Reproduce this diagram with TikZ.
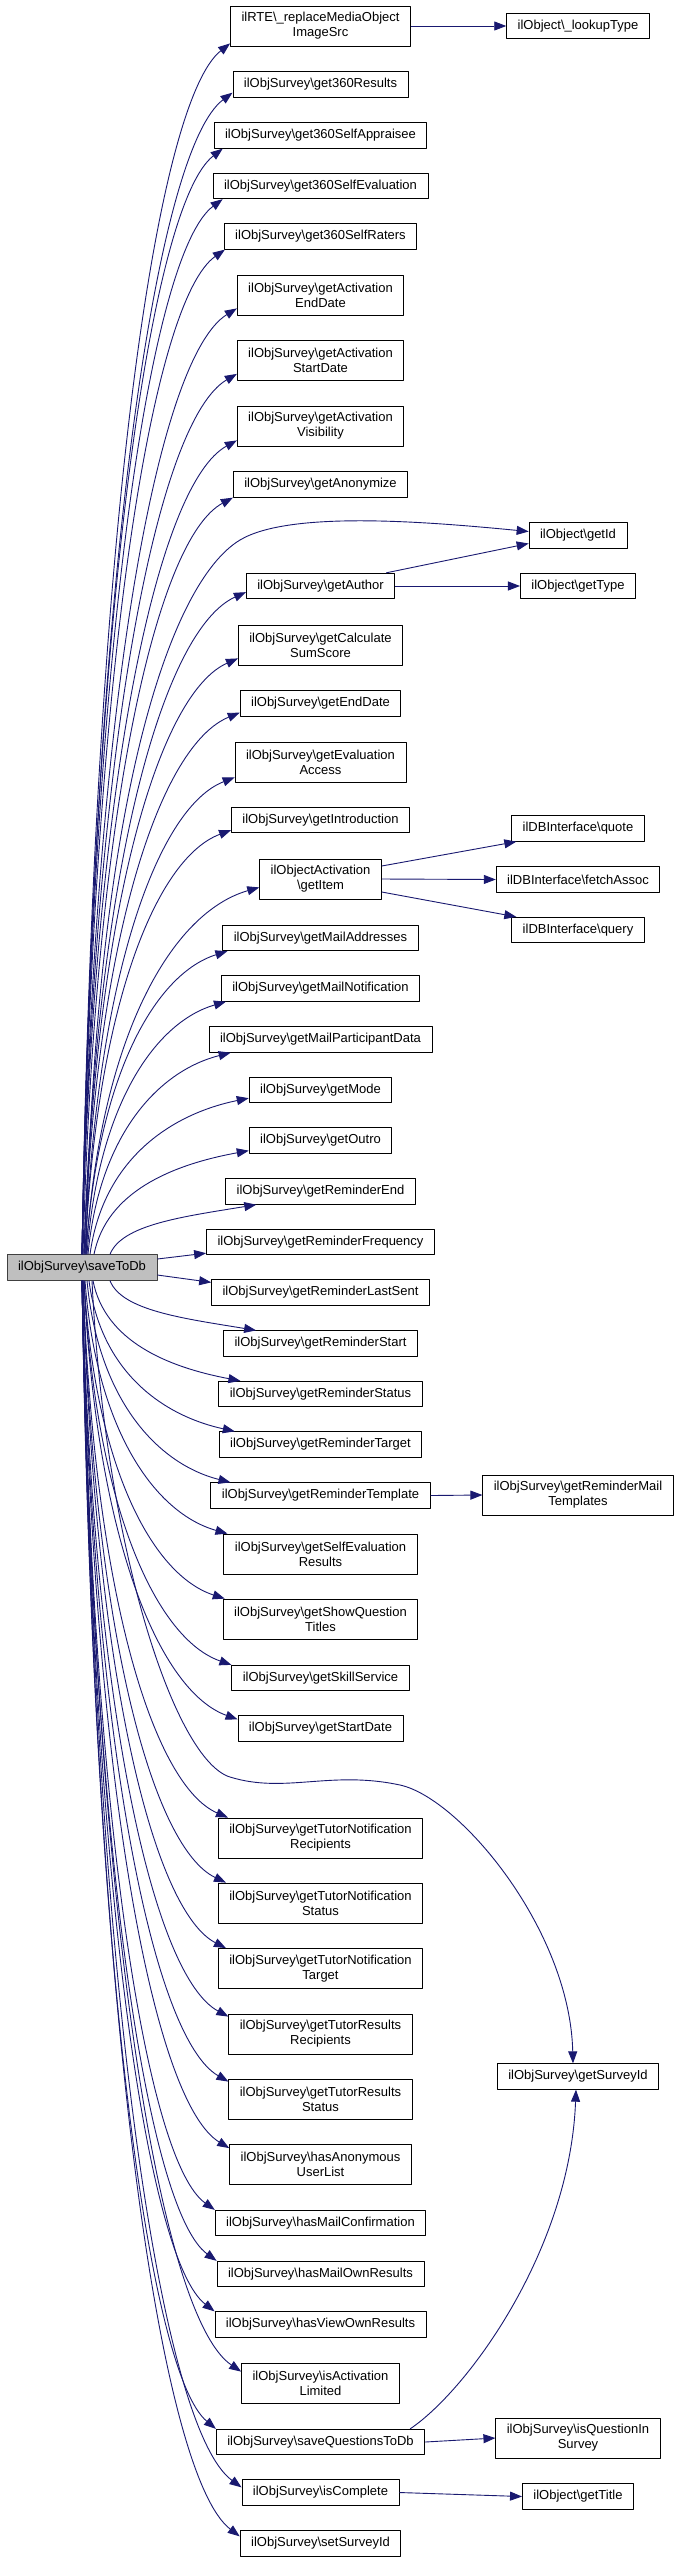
\documentclass[tikz,border=0pt]{standalone}
\usepackage{fontspec}
\setmainfont{Liberation Sans}
\usetikzlibrary{arrows.meta,calc}
\definecolor{navy}{HTML}{191970}
\newcommand{\bsl}{\textbackslash}
\begin{document}
\begin{tikzpicture}[x=1pt, y=-1pt, font=\fontsize{13}{15}\selectfont, line join=round, >={Triangle[length=12pt,width=9pt]},
	box/.style={draw, line width=0.8pt, fill=white, inner xsep=11pt, inner ysep=3pt, minimum height=25.5pt},
	two/.style={box, align=center, minimum height=40pt},
	edge/.style={->, navy, line width=0.9pt}]
	\useasboundingbox (0,0) rectangle (679,2562);
	% caller
	\node[box, fill=black!25, draw=black!75] (sdb) at (82,1267.5) {ilObjSurvey\bsl saveToDb};
	% callees, middle column
	\node[two] (rte) at (320.5,26) {ilRTE\bsl\_replaceMediaObject\\ImageSrc};
	\node[two] (itm) at (320.5,879) {ilObjectActivation\\\bsl getItem};
	\foreach \t/\h/\txt in {r360/84.5/get360Results, app/135.5/get360SelfAppraisee, eva/186/get360SelfEvaluation,
		rat/236.5/get360SelfRaters, ano/484.5/getAnonymize, aut/586/getAuthor, edt/703.5/getEndDate,
		int/820/getIntroduction, mad/938/getMailAddresses, mno/988.5/getMailNotification,
		mpd/1039.5/getMailParticipantData, mod/1090/getMode, out/1140.5/getOutro, ren/1191.5/getReminderEnd,
		rfr/1242/getReminderFrequency, rls/1292.5/getReminderLastSent, rst/1343.5/getReminderStart,
		rss/1394/getReminderStatus, rta/1444.5/getReminderTarget, rtp/1495.5/getReminderTemplate,
		sks/1678/getSkillService, sda/1728.5/getStartDate, hmc/2223/hasMailConfirmation,
		hmo/2274/hasMailOwnResults, hvo/2324.5/hasViewOwnResults, sqd/2442/saveQuestionsToDb,
		icp/2492.5/isComplete, ssi/2543.5/setSurveyId}
	\node[box] (\t) at (320.5,\h) {ilObjSurvey\bsl\txt};
	\foreach \t/\h/\pa/\pb in {aed/295/getActivation/EndDate, asd/360.5/getActivation/StartDate,
		avi/426/getActivation/Visibility, css/645/getCalculate/SumScore, eac/762/getEvaluation/Access,
		ser/1554/getSelfEvaluation/Results, sqt/1619/getShowQuestion/Titles,
		tnr/1838/getTutorNotification/Recipients, tns/1903/getTutorNotification/Status,
		tnt/1968.5/getTutorNotification/Target, trr/2034/getTutorResults/Recipients,
		trs/2099/getTutorResults/Status, hau/2164.5/hasAnonymous/UserList, ial/2383/isActivation/Limited}
	\node[two] (\t) at (320.5,\h) {ilObjSurvey\bsl\pa\\\pb};
	% right column
	\node[box] (lkt) at (578,26) {ilObject\bsl\_lookupType};
	\node[box] (gid) at (578,535.5) {ilObject\bsl getId};
	\node[box] (gty) at (578,586) {ilObject\bsl getType};
	\node[box] (quo) at (578,828.5) {ilDBInterface\bsl quote};
	\node[box] (fas) at (578,879.5) {ilDBInterface\bsl fetchAssoc};
	\node[box] (qry) at (578,930) {ilDBInterface\bsl query};
	\node[two] (rmt) at (578,1495) {ilObjSurvey\bsl getReminderMail\\Templates};
	\node[box] (sid) at (578,2076.5) {ilObjSurvey\bsl getSurveyId};
	\node[two] (iqs) at (578,2438) {ilObjSurvey\bsl isQuestionIn\\Survey};
	\node[box] (tit) at (578,2496.5) {ilObject\bsl getTitle};
	% calls going up
	\foreach \t/\s/\e/\f in {rte/0/0/3, r360/0/0/5, app/0/9/0, eva/0/10/0, rat/0/1/0, aed/0/0/7, asd/0/0/7,
		avi/0/0/6, ano/1/0/0, aut/2/0/7, css/2/0/7, edt/2/0/4, eac/3/0/5, int/3/0/3, itm/4/0/12, mad/4/5/0,
		mno/5/5/0, mpd/6/22/0, mod/8/0/5, out/12/0/3, ren/28/31/0}
	\draw[edge] let \p1=([xshift=\s pt]sdb.north), \p2=([xshift=\e pt,yshift=\f pt]\t.south west),
		\n1={\y2-\y1}, \n2={\x2-\x1} in
		(\p1) .. controls ({\x1+0.08*\n2},{\y1+0.6*\n1}) and ({\x2-0.5*\n2},{\y2-0.04*\n1-10pt}) .. (\p2);
	% calls going down
	\foreach \t/\s/\e/\f in {rst/28/33/0, rss/11/22/0, rta/7/16/0, rtp/5/20/0, ser/3/4/0, sqt/2/2/0, sks/2/0/0,
		sda/2/0/4, tnr/1/10/0, tns/1/8/0, tnt/1/8/0, trr/0/0/3, trs/0/0/3, hau/0/0/4, hmc/0/0/0, hmo/0/0/0,
		hvo/0/0/0, ial/0/0/9, sqd/0/0/0, icp/0/0/8, ssi/0/0/6}
	\draw[edge] let \p1=([xshift=\s pt]sdb.south), \p2=([xshift=\e pt,yshift=-\f pt]\t.north west),
		\n1={\y2-\y1}, \n2={\x2-\x1} in
		(\p1) .. controls ({\x1+0.08*\n2},{\y1+0.6*\n1}) and ({\x2-0.5*\n2},{\y2-0.04*\n1+10pt}) .. (\p2);
	\draw[edge] ([yshift=8.5pt]sdb.east) -- ([yshift=2pt]rfr.south west);
	\draw[edge] ([yshift=-7.5pt]sdb.east) -- ([yshift=-3pt]rls.north west);
	\draw[edge] ([xshift=4pt]sdb.north) .. controls (95,800) and (170,582) .. (240,540)
		.. controls (290,510) and (430,522) .. ([yshift=4pt]gid.west);
	\draw[edge] ([xshift=10pt]sdb.south) .. controls (105,1550) and (175,1760) .. (230,1777)
		.. controls (285,1794) and (330,1770) .. (400,1785)
		.. controls (460,1798) and (570,1930) .. ([xshift=-5pt]sid.north);
	% second level
	\draw[edge] (rte.east) -- (lkt.west);
	\draw[edge] ([xshift=-9pt]aut.north east) -- ([yshift=-8pt]gid.west);
	\draw[edge] (aut.east) -- (gty.west);
	\draw[edge] ([yshift=13pt]itm.east) -- ([xshift=5pt]quo.south west);
	\draw[edge] (itm.east) -- (fas.west);
	\draw[edge] ([yshift=-13pt]itm.east) -- ([xshift=5pt]qry.north west);
	\draw[edge] (rtp.east) -- (rmt.west);
	\draw[edge] (sqd.east) -- (iqs.west);
	\draw[edge] ([xshift=-15pt]sqd.north east) .. controls +(58,-39) and +(-6,160) .. ([xshift=-2pt]sid.south);
	\draw[edge] (icp.east) -- (tit.west);
\end{tikzpicture}
\end{document}
